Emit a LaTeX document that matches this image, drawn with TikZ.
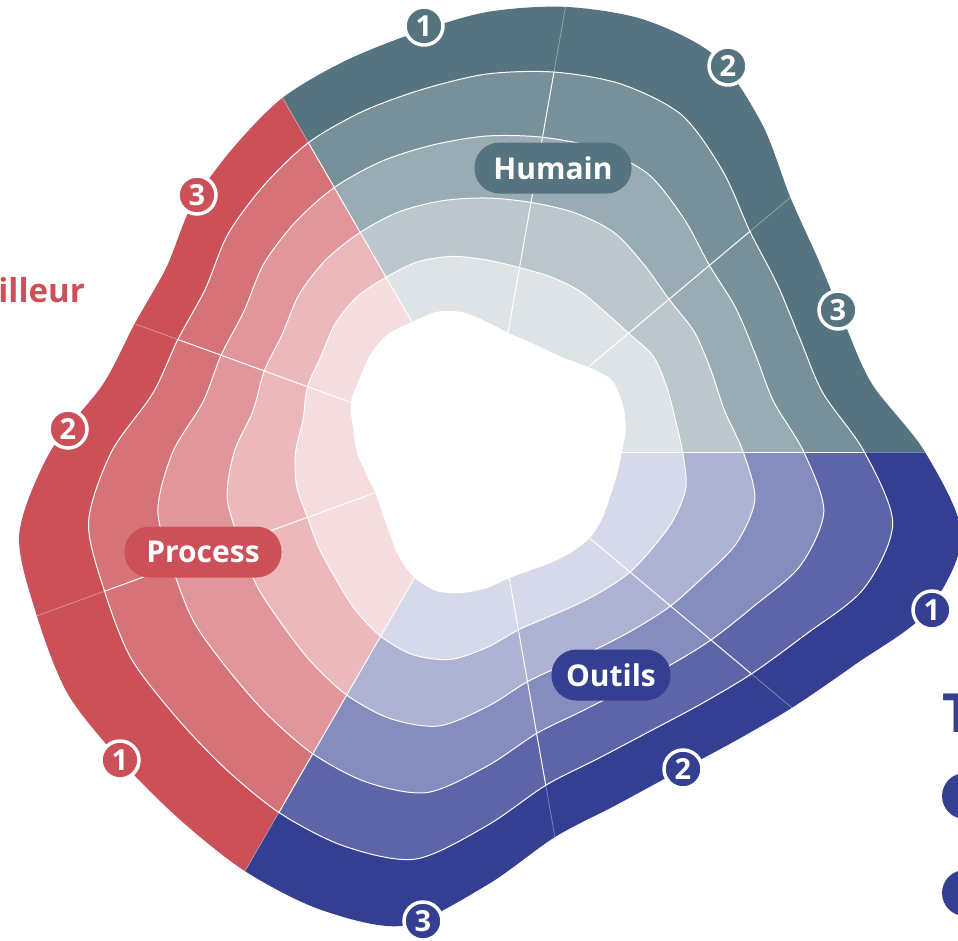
\documentclass[tikz,border=0pt]{standalone}
\usepackage{fontspec}
\setmainfont{Open Sans}
\definecolor{colHum}{HTML}{557480}
\definecolor{colPro}{HTML}{CC5058}
\definecolor{colOut}{HTML}{343F92}
\tikzset{
  ringline/.style={draw=white, line width=1pt},
  radline/.style={draw=white, line width=1pt},
  radfaint/.style={draw=white, line width=0.8pt, opacity=0.35},
  pill/.style={fill=#1, text=white, rounded corners=25pt, minimum height=51pt, inner sep=0pt,
    font=\fontsize{30}{30}\selectfont\bfseries},
  badge/.style={circle, fill=#1, draw=white, line width=3.5pt, minimum size=38pt, inner sep=0pt,
    text=white, font=\fontsize{29}{29}\selectfont\bfseries},
}
\def\cx{487}
\def\cy{452}
\newcommand\ringfill[2]{\edef\rftmp{\noexpand\fill[#2] plot[smooth cycle] coordinates {\csname ring#1\endcsname};}\rftmp}
\newcommand\ringdraw[1]{\edef\rftmp{\noexpand\draw[ringline] plot[smooth cycle] coordinates {\csname ring#1\endcsname};}\rftmp}
\newcommand\sectorfill[2]{%
  \begin{scope}
    \clip (\cx,\cy) -- ({\cx+1300*cos(#1)},{\cy-1300*sin(#1)})
      -- ({\cx+1300*cos(#1+40)},{\cy-1300*sin(#1+40)})
      -- ({\cx+1300*cos(#1+80)},{\cy-1300*sin(#1+80)})
      -- ({\cx+1300*cos(#1+120)},{\cy-1300*sin(#1+120)}) -- cycle;
    \ringfill{5}{fill=#2}
    \ringfill{4}{fill=#2!80}
    \ringfill{3}{fill=#2!60}
    \ringfill{2}{fill=#2!40}
    \ringfill{1}{fill=#2!20}
  \end{scope}}
\begin{document}
\begin{tikzpicture}[x=1pt,y=-1pt]
\useasboundingbox (0,0) rectangle (958,940);
\clip (0,0) rectangle (958,940);
\foreach \t/\ri/\ro in {0/135/438,10/141/391,20/144/380,30/144/383,40/132/396,50/122/428,
  60/118/457,70/118/460,80/121/452,90/130/440,100/142/425,110/149/416,120/150/409,
  130/154/396,140/152/385,150/147/370,160/145/375,170/136/390,180/130/437,190/123/475,
  200/119/479,210/121/484,220/127/479,230/137/479,240/145/484,250/148/487,260/143/481,
  270/136/433,280/128/391,290/126/376,300/128/372,310/131/380,320/134/398,330/133/425,
  340/131/468,350/132/482}{
  \foreach \k in {0,...,5}{
    \pgfmathsetmacro\rr{\ri+\k*(\ro-\ri)/5}
    \coordinate (p\k-\t) at ({\cx+\rr*cos(\t)},{\cy-\rr*sin(\t)});
  }
}
\foreach \k in {0,...,5}{
  \gdef\rtmp{}
  \foreach \t in {0,10,...,350}{\xdef\rtmp{\rtmp (p\k-\t)}}
  \expandafter\xdef\csname ring\k\endcsname{\rtmp}
}
\sectorfill{0}{colHum}
\sectorfill{120}{colPro}
\sectorfill{240}{colOut}
\ringfill{0}{fill=white}
\ringdraw{1}
\ringdraw{2}
\ringdraw{3}
\ringdraw{4}
\foreach \t in {0,40,...,320}{
  \draw[radline] (p0-\t) -- (p4-\t);
  \draw[radfaint] (p4-\t) -- (p5-\t);
}
% labels
\node[pill=colHum, minimum width=157pt] (lhum) at (553,168) {Humain};
\node[pill=colPro, minimum width=157pt] (lpro) at (203,552) {Process};
\node[pill=colOut, minimum width=119pt] (lout) at (611,675) {Outils};
% badges
\node[badge=colHum] (h1) at (424,26) {1};
\node[badge=colHum] (h2) at (728,66) {2};
\node[badge=colHum] (h3) at (838,310) {3};
\node[badge=colPro] (p3) at (197,195) {3};
\node[badge=colPro] (p2) at (68,429) {2};
\node[badge=colPro] (p1) at (120,760) {1};
\node[badge=colOut] (o1) at (932,610) {1};
\node[badge=colOut] (o2) at (683,769) {2};
\node[badge=colOut] (o3) at (423,921) {3};
% cropped side texts
\node[anchor=base east, inner sep=0pt, text=colPro, font=\fontsize{33}{33}\selectfont\bfseries] (tl) at (85,302) {illeur};
\node[anchor=base west, inner sep=0pt, text=colOut, font=\fontsize{54}{54}\selectfont\bfseries] (tr) at (942,732) {T};
\node[circle, fill=colOut, minimum size=46pt, inner sep=0pt] (c1) at (965,796) {};
\node[circle, fill=colOut, minimum size=46pt, inner sep=0pt] (c2) at (965,893) {};
\end{tikzpicture}
\end{document}
